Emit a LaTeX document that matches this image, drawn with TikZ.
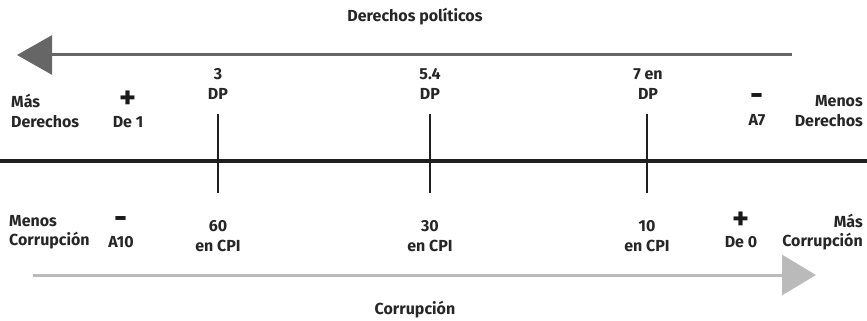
\documentclass[tikz,border=0pt]{standalone}
\usepackage{fontspec}
\setmainfont{Fira Sans}
\usetikzlibrary{arrows.meta}
\begin{document}
\begin{tikzpicture}[x=1pt,y=-1pt,
  lbl/.style={font=\bfseries\fontsize{16}{19.5}\selectfont, text=black!85, inner sep=0pt, align=center},
  lbll/.style={lbl, align=left, anchor=west},
  lblr/.style={lbl, align=right, anchor=east},
  sign/.style={font=\bfseries\fontsize{32}{32}\selectfont, text=black!90, inner sep=0pt},
  tick/.style={line width=2.2pt, draw=black!88}]
\useasboundingbox (0,0) rectangle (867,321);
% titles
\node[lbl] (tdp) at (415,17) {Derechos políticos};
\node[lbl] (tcor) at (415,310) {Corrupción};
% top arrow
\coordinate (ta1) at (792,55);
\coordinate (ta2) at (17,55);
\draw[line width=3pt, draw=black!60, -{Triangle[length=35pt,width=39pt]}] (ta1) -- (ta2);
% bottom arrow
\coordinate (ba1) at (33,275);
\coordinate (ba2) at (816,275);
\draw[line width=3pt, draw=black!27, -{Triangle[length=34pt,width=40pt]}] (ba1) -- (ba2);
% main line
\coordinate (m1) at (0,161);
\coordinate (m2) at (867,161);
\draw[line width=3.5pt, draw=black!88] (m1) -- (m2);
% ticks
\coordinate (t1a) at (218,114); \coordinate (t1b) at (218,193);
\coordinate (t2a) at (430,114); \coordinate (t2b) at (430,193);
\coordinate (t3a) at (647,114); \coordinate (t3b) at (647,193);
\draw[tick] (t1a) -- (t1b);
\draw[tick] (t2a) -- (t2b);
\draw[tick] (t3a) -- (t3b);
% upper labels
\node[lbl] (u1) at (218,84) {3\\DP};
\node[lbl] (u2) at (430,84) {5.4\\DP};
\node[lbl] (u3) at (648,84) {7 en\\DP};
\node[lbll] (ml) at (11,111) {Más\\Derechos};
\node[lblr] (mr) at (863,111) {Menos\\Derechos};
\node[sign] (plus1) at (128,100) {+};
\node[lbl] (de1) at (128,122) {De 1};
\node[sign] (minus1) at (757,100) {-};
\node[lbl] (a7) at (757,120) {A7};
% lower labels
\node[lbl] (l1) at (218,236) {60\\en CPI};
\node[lbl] (l2) at (430,236) {30\\en CPI};
\node[lbl] (l3) at (647,236) {10\\en CPI};
\node[lbll] (cl) at (9,232) {Menos\\Corrupción};
\node[lblr] (cr) at (863,232) {Más\\Corrupción};
\node[sign] (minus2) at (121,223) {-};
\node[lbl] (a10) at (121,242) {A10};
\node[sign] (plus2) at (741,221) {+};
\node[lbl] (de0) at (741,242) {De 0};
\end{tikzpicture}
\end{document}
